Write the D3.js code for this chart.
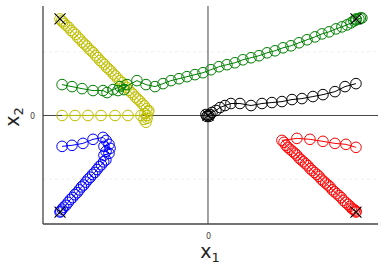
<!DOCTYPE html>
<html><head><meta charset="utf-8">
<script src="https://cdn.jsdelivr.net/npm/d3@7"></script>
<style>body{margin:0;background:#fff}svg{display:block}</style>
</head><body>
<svg id="c" width="384" height="270"></svg>
<script>
// ---- data (data units) ----
const yellowX = [-0.986,-0.899,-0.811,-0.723,-0.628,-0.541,-0.453,-0.426,-0.412,-0.419,-0.432,-0.412,-0.405,
  -0.40,-0.415,-0.43,-0.445,-0.46,-0.475,-0.49,-0.505,-0.52,-0.535,-0.55,-0.565,-0.58,-0.595,-0.61,-0.625,-0.64,-0.655,-0.67,-0.685,-0.70,-0.715,-0.73,-0.745,-0.76,-0.775,-0.79,-0.805,-0.82,-0.835,-0.85,-0.865,-0.88,-0.895,-0.91,-0.925,-0.94,-0.955,-0.97,-0.98,-0.99,-1.0];
const yellowY = [0,0,0,0,0,0,0,0.02,-0.03,-0.07,-0.04,0,0.04,
  0.05,0.07,0.10,0.12,0.15,0.17,0.19,0.22,0.24,0.26,0.29,0.31,0.34,0.36,0.38,0.41,0.43,0.46,0.48,0.50,0.53,0.55,0.57,0.60,0.62,0.65,0.67,0.69,0.72,0.74,0.76,0.79,0.81,0.84,0.86,0.88,0.91,0.93,0.95,0.97,0.98,1.0];

const greenX = [-0.986,-0.919,-0.851,-0.777,-0.709,-0.682,-0.642,-0.595,-0.547,-0.568,-0.608,-0.480,-0.419,-0.358,-0.304,-0.250,-0.196,-0.142,-0.088,-0.034,0.020,0.074,0.128,0.182,0.236,0.291,0.345,0.399,0.453,0.507,0.561,0.615,0.669,0.723,0.770,0.818,0.865,0.905,0.939,0.966,0.986,1.0,1.0,1.02,1.03,1.04];
const greenY = [0.320,0.299,0.278,0.258,0.258,0.237,0.268,0.299,0.320,0.268,0.258,0.361,0.320,0.299,0.330,0.361,0.381,0.402,0.423,0.443,0.474,0.505,0.526,0.546,0.577,0.598,0.619,0.649,0.670,0.701,0.722,0.753,0.784,0.814,0.845,0.866,0.897,0.918,0.938,0.959,0.979,0.99,1.0,1.0,1.01,1.01];

const blackX = [1.0,0.926,0.858,0.777,0.709,0.635,0.568,0.500,0.432,0.365,0.291,0.216,0.155,0.115,0.081,0.054,0.027,0.014,0,-0.007,0.007,-0.014];
const blackY = [0.330,0.299,0.247,0.216,0.196,0.175,0.165,0.144,0.134,0.124,0.103,0.124,0.124,0.103,0.082,0.052,0.031,0.010,0,-0.01,-0.01,0.01];

const redX = [1.0,0.932,0.858,0.777,0.689,0.601,0.500,0.514,0.527,
  0.54,0.555,0.57,0.585,0.60,0.615,0.63,0.645,0.66,0.675,0.69,0.705,0.72,0.735,0.75,0.765,0.78,0.795,0.81,0.825,0.84,0.855,0.87,0.885,0.90,0.915,0.93,0.945,0.96,0.97,0.98,0.99,1.0,1.0];
const redY = [-0.330,-0.299,-0.289,-0.268,-0.247,-0.237,-0.258,-0.278,-0.309,
  -0.33,-0.35,-0.37,-0.39,-0.41,-0.44,-0.46,-0.48,-0.50,-0.52,-0.55,-0.57,-0.59,-0.61,-0.63,-0.66,-0.68,-0.70,-0.72,-0.74,-0.77,-0.79,-0.81,-0.83,-0.85,-0.88,-0.90,-0.92,-0.94,-0.96,-0.97,-0.98,-0.99,-1.0];

const blueX = [-0.986,-0.919,-0.845,-0.777,-0.709,-0.689,-0.669,-0.703,-0.662,-0.689,-0.669,-0.703,
  -0.69,-0.705,-0.72,-0.735,-0.75,-0.765,-0.78,-0.795,-0.81,-0.825,-0.84,-0.855,-0.87,-0.885,-0.90,-0.915,-0.93,-0.945,-0.96,-0.975,-0.985,-0.995,-1.0];
const blueY = [-0.320,-0.309,-0.289,-0.247,-0.227,-0.258,-0.299,-0.320,-0.340,-0.371,-0.392,-0.412,
  -0.46,-0.48,-0.51,-0.53,-0.56,-0.59,-0.61,-0.64,-0.66,-0.69,-0.72,-0.74,-0.77,-0.80,-0.82,-0.85,-0.87,-0.90,-0.93,-0.95,-0.97,-0.99,-1.0];

const targetX = [-1, 1, 0, 1, -1];
const targetY = [1, 1, 0, -1, -1];

const xTicks = [0], yTicks = [0];
const gridY = [-0.66, 0.66];
const xTickLabels = ["0"], yTickLabels = ["0"];

// ---- layout ----
const svg = d3.select("#c");
const L = 43, R = 378, T = 6, B = 224;
const x = d3.scaleLinear().domain([-1.115, 1.149]).range([L, R]);
const y = d3.scaleLinear().domain([-1.124, 1.134]).range([B, T]);
const axisCol = "#444";

// grid
svg.selectAll(".grid").data(gridY).enter().append("line")
  .attr("x1", L).attr("x2", R).attr("y1", d => y(d)).attr("y2", d => y(d))
  .attr("stroke", "#efefef").attr("stroke-width", 1).attr("stroke-dasharray", "3,3");

// zero lines
svg.append("line").attr("x1", x(0)).attr("x2", x(0)).attr("y1", T).attr("y2", B).attr("stroke", axisCol).attr("stroke-width", 1);
svg.append("line").attr("x1", L).attr("x2", R).attr("y1", y(0)).attr("y2", y(0)).attr("stroke", axisCol).attr("stroke-width", 1);

// frame (left, bottom) via axes without ticks
const xAxis = d3.axisBottom(x).tickValues(xTicks).tickFormat((d,i) => xTickLabels[i]).tickSize(0).tickPadding(9);
const yAxis = d3.axisLeft(y).tickValues(yTicks).tickFormat((d,i) => yTickLabels[i]).tickSize(0).tickPadding(8);
const gx = svg.append("g").attr("transform", `translate(0,${B})`).call(xAxis);
const gy = svg.append("g").attr("transform", `translate(${L},0)`).call(yAxis);
[gx, gy].forEach(g => {
  g.select(".domain").attr("stroke", axisCol).attr("stroke-width", 1.3).attr("d", g === gx ? `M${L},0H${R}` : `M0,${T}V${B}`);
  g.selectAll("text").attr("font-family", "DejaVu Sans").attr("font-size", 8).attr("fill", "#444");
});

// series
const series = [
  {xs: yellowX, ys: yellowY, c: "#bfbf00"},
  {xs: greenX, ys: greenY, c: "#008000"},
  {xs: blackX, ys: blackY, c: "#000000"},
  {xs: redX, ys: redY, c: "#ff0000"},
  {xs: blueX, ys: blueY, c: "#0000ff"}
];
const line = d3.line().x(d => x(d[0])).y(d => y(d[1]));
series.forEach(s => {
  const pts = s.xs.map((v, i) => [v, s.ys[i]]);
  svg.append("path").attr("d", line(pts)).attr("fill", "none").attr("stroke", s.c).attr("stroke-width", 1);
  svg.append("g").selectAll("circle").data(pts).enter().append("circle")
    .attr("cx", d => x(d[0])).attr("cy", d => y(d[1])).attr("r", 5.3)
    .attr("fill", "none").attr("stroke", s.c).attr("stroke-width", 1);
});

// target X markers
const tg = svg.append("g");
targetX.forEach((tx, i) => {
  const cx = x(tx), cy = y(targetY[i]), s = 5.5;
  tg.append("path").attr("d", `M${cx-s},${cy-s}L${cx+s},${cy+s}M${cx-s},${cy+s}L${cx+s},${cy-s}`)
    .attr("stroke", "#000").attr("stroke-width", 1.1).attr("fill", "none");
});

// axis labels
const xl = svg.append("text").attr("x", 210).attr("y", 258).attr("text-anchor", "middle")
  .attr("font-family", "DejaVu Sans").attr("font-size", 19).attr("fill", "#222");
xl.append("tspan").text("x");
xl.append("tspan").attr("font-size", 13).attr("dy", 4).text("1");

const yl = svg.append("text").attr("transform", "translate(19,117) rotate(-90)").attr("text-anchor", "middle")
  .attr("font-family", "DejaVu Sans").attr("font-size", 19).attr("fill", "#222");
yl.append("tspan").text("x");
yl.append("tspan").attr("font-size", 13).attr("dy", 4).text("2");
</script>
</body></html>
